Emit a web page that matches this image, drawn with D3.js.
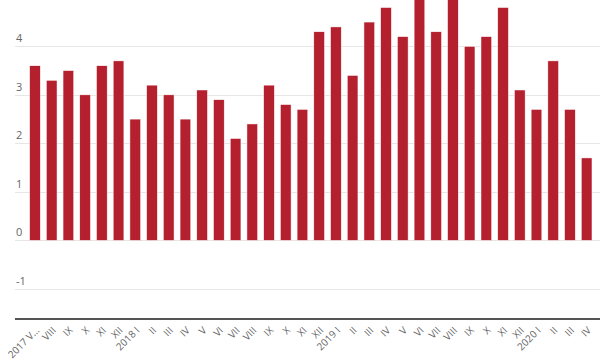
<!DOCTYPE html>
<html>
<head>
<meta charset="utf-8">
<script src="https://cdn.jsdelivr.net/npm/d3@7"></script>
<style>
  html, body { margin: 0; padding: 0; background: #fff; }
  svg { display: block; font-family: "Open Sans", "DejaVu Sans", sans-serif; }
</style>
</head>
<body>
<svg id="chart" width="600" height="360"></svg>
<script>
const categories = ["2017 VII","VIII","IX","X","XI","XII","2018 I","II","III","IV","V","VI","VII","VIII","IX","X","XI","XII","2019 I","II","III","IV","V","VI","VII","VIII","IX","X","XI","XII","2020 I","II","III","IV"];
const tickLabels = ["2017 V…","VIII","IX","X","XI","XII","2018 I","II","III","IV","V","VI","VII","VIII","IX","X","XI","XII","2019 I","II","III","IV","V","VI","VII","VIII","IX","X","XI","XII","2020 I","II","III","IV"];
const values = [3.6,3.3,3.5,3.0,3.6,3.7,2.5,3.2,3.0,2.5,3.1,2.9,2.1,2.4,3.2,2.8,2.7,4.3,4.4,3.4,4.5,4.8,4.2,5.1,4.3,5.1,4.0,4.2,4.8,3.1,2.7,3.7,2.7,1.7];
const yTicks = [-1,0,1,2,3,4,5];
const yLabelTicks = [-1,0,1,2,3,4];

const svg = d3.select("#chart");
const plotLeft = 15, plotRight = 600;
const y = d3.scaleLinear().domain([-1.62, 5]).range([319, -2.2]);
const idx = categories.map((d, i) => i);
const x = d3.scaleBand().domain(idx).range([26.6, 595]).paddingInner(0.36).paddingOuter(0.18);

// gridlines
svg.append("g").selectAll("line").data(yTicks).join("line")
  .attr("x1", plotLeft).attr("x2", plotRight)
  .attr("y1", d => Math.round(y(d)) + 0.5).attr("y2", d => Math.round(y(d)) + 0.5)
  .attr("stroke", "#e6e6e6").attr("stroke-width", 1);

// y labels
svg.append("g").selectAll("text").data(yLabelTicks).join("text")
  .attr("x", 16).attr("y", d => y(d) - 4)
  .attr("fill", "#666").attr("font-size", 11)
  .text(d => d);

// bars
svg.append("g").selectAll("rect").data(values).join("rect")
  .attr("x", (d, i) => x(i))
  .attr("width", x.bandwidth())
  .attr("y", d => y(Math.max(0, d)))
  .attr("height", d => Math.abs(y(d) - y(0)))
  .attr("fill", "#b5202e")
  .attr("stroke", "#fff").attr("stroke-width", 0.5);

// x axis
const xAxis = d3.axisBottom(x).tickSize(0).tickPadding(0).tickFormat(i => tickLabels[i]);
const gx = svg.append("g").attr("transform", "translate(0,319)").call(xAxis);
gx.select(".domain").remove();
svg.append("line").attr("x1", plotLeft).attr("x2", plotRight).attr("y1", 319).attr("y2", 319)
  .attr("stroke", "#555").attr("stroke-width", 2);
gx.selectAll("text")
  .attr("fill", "#666").attr("font-size", 10)
  .attr("font-family", "'Open Sans', 'DejaVu Sans', sans-serif")
  .attr("text-anchor", "end")
  .attr("dy", null).attr("y", 0)
  .attr("transform", "translate(5,12) rotate(-45)");
</script>
</body>
</html>
